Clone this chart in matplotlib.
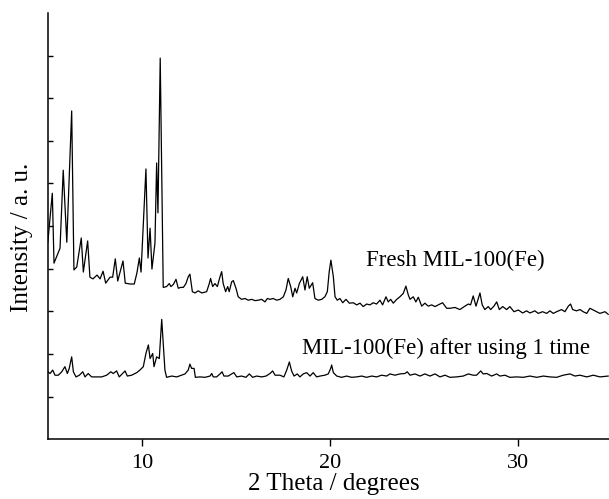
import matplotlib
matplotlib.use("Agg")
import matplotlib.pyplot as plt

# XRD patterns (2 theta in degrees, intensity a.u.)
fresh_x = [5.00, 5.24, 5.33, 5.65, 5.82, 6.01, 6.27, 6.39, 6.54, 6.78, 6.89, 7.12, 7.24, 7.40,
           7.62, 7.78, 7.94, 8.08, 8.31, 8.45, 8.59, 8.72, 9.00, 9.12, 9.37, 9.60, 9.74, 9.87,
           9.96, 10.22, 10.33, 10.44, 10.54, 10.70, 10.79, 10.86, 10.98,
           11.14, 11.32, 11.46, 11.55, 11.68, 11.82, 11.94, 12.07, 12.21, 12.35, 12.47, 12.56,
           12.69, 12.83, 13.00, 13.19, 13.45, 13.59, 13.66, 13.77, 13.89, 14.02, 14.16, 14.25,
           14.33, 14.46, 14.57, 14.65, 14.78, 14.87, 15.01, 15.13, 15.31, 15.49, 15.66, 15.85,
           16.02, 16.20, 16.38, 16.55, 16.68, 16.82, 16.99, 17.18, 17.35, 17.53, 17.67, 17.79,
           17.92, 18.03, 18.15, 18.24, 18.38, 18.56, 18.68, 18.80, 18.91, 19.09, 19.21, 19.39,
           19.57, 19.74, 19.87, 19.97, 20.06, 20.19, 20.28, 20.40, 20.54, 20.69, 20.86, 21.04,
           21.25, 21.43, 21.61, 21.78, 21.96, 22.14, 22.31, 22.49, 22.67, 22.81, 22.99, 23.11,
           23.24, 23.38, 23.56, 23.73, 23.91, 24.05, 24.18, 24.27, 24.44, 24.58, 24.71, 24.89,
           25.06, 25.24, 25.42, 25.60, 25.77, 26.00, 26.22, 26.39, 26.66, 26.92, 27.19, 27.37,
           27.49, 27.63, 27.78, 27.90, 27.99, 28.11, 28.25, 28.43, 28.56, 28.73, 28.88, 29.02,
           29.20, 29.41, 29.58, 29.80, 30.03, 30.26, 30.47, 30.65, 30.91, 31.09, 31.32, 31.54,
           31.71, 31.89, 32.07, 32.33, 32.51, 32.69, 32.81, 32.92, 33.13, 33.31, 33.48, 33.67,
           33.84, 34.02, 34.20, 34.37, 34.64, 34.81]
fresh_y = [4.62, 5.77, 4.13, 4.48, 6.31, 4.62, 7.70, 3.97, 4.04, 4.72, 3.92, 4.65, 3.80, 3.76,
           3.85, 3.76, 3.94, 3.66, 3.80, 3.80, 4.23, 3.71, 4.18, 3.66, 3.64, 3.64, 3.90, 4.25,
           3.92, 6.34, 4.25, 4.95, 3.99, 4.60, 6.48, 5.31, 8.94,
           3.56, 3.58, 3.65, 3.58, 3.63, 3.75, 3.54, 3.56, 3.56, 3.65, 3.81, 3.87,
           3.46, 3.43, 3.48, 3.43, 3.46, 3.65, 3.77, 3.58, 3.65, 3.58, 3.81, 3.93,
           3.65, 3.46, 3.58, 3.46, 3.69, 3.72, 3.54, 3.34, 3.28, 3.30, 3.26, 3.28,
           3.25, 3.26, 3.28, 3.22, 3.30, 3.28, 3.30, 3.26, 3.28, 3.34, 3.50, 3.77,
           3.58, 3.34, 3.54, 3.43, 3.65, 3.81, 3.50, 3.81, 3.54, 3.67, 3.30, 3.26,
           3.28, 3.34, 3.46, 3.93, 4.20, 3.81, 3.34, 3.26, 3.30, 3.20, 3.28, 3.19,
           3.20, 3.15, 3.19, 3.11, 3.17, 3.15, 3.20, 3.17, 3.26, 3.15, 3.34, 3.22,
           3.28, 3.19, 3.28, 3.34, 3.42, 3.59, 3.38, 3.28, 3.34, 3.22, 3.33, 3.12,
           3.19, 3.12, 3.15, 3.11, 3.15, 3.20, 3.07, 3.07, 3.09, 3.04, 3.12, 3.17,
           3.15, 3.36, 3.12, 3.30, 3.43, 3.15, 3.04, 3.11, 3.04, 3.12, 3.22, 3.04,
           3.11, 3.04, 3.11, 2.99, 3.03, 2.96, 3.01, 2.96, 3.01, 2.95, 2.99, 2.95,
           3.01, 2.95, 2.99, 3.04, 2.99, 3.12, 3.17, 3.04, 3.01, 3.04, 2.99, 2.95,
           3.07, 3.03, 2.99, 2.95, 2.99, 2.93]

used_x = [5.00, 5.12, 5.26, 5.38, 5.56, 5.74, 5.91, 6.04, 6.14, 6.27, 6.36, 6.50, 6.68, 6.86,
          6.98, 7.15, 7.33, 7.60, 7.87, 8.13, 8.35, 8.48, 8.66, 8.80, 8.98, 9.11, 9.23, 9.46,
          9.73, 9.90, 10.08, 10.22, 10.35, 10.44, 10.58, 10.65, 10.79, 10.93, 11.06, 11.14,
          11.23, 11.32, 11.59, 11.86, 12.12, 12.30, 12.47, 12.56, 12.65, 12.78, 12.85, 13.10,
          13.36, 13.63, 13.72, 13.80, 13.98, 14.16, 14.27, 14.37, 14.60, 14.78, 14.90, 15.05,
          15.31, 15.54, 15.72, 15.90, 16.11, 16.38, 16.61, 16.82, 16.96, 17.09, 17.35, 17.56,
          17.71, 17.85, 17.97, 18.10, 18.27, 18.41, 18.59, 18.77, 18.95, 19.12, 19.30, 19.48,
          19.74, 19.92, 20.05, 20.10, 20.19, 20.37, 20.63, 20.90, 21.16, 21.43, 21.70, 21.96,
          22.23, 22.49, 22.76, 23.03, 23.20, 23.47, 23.73, 24.00, 24.12, 24.27, 24.53, 24.80,
          25.06, 25.33, 25.60, 25.86, 26.13, 26.39, 26.75, 27.10, 27.37, 27.63, 27.81, 28.03,
          28.16, 28.35, 28.61, 28.88, 29.05, 29.32, 29.58, 29.94, 30.29, 30.65, 31.01, 31.36,
          31.71, 32.07, 32.42, 32.78, 33.04, 33.31, 33.67, 34.02, 34.37, 34.81]
used_y = [1.58, 1.54, 1.62, 1.50, 1.50, 1.58, 1.70, 1.54, 1.66, 1.93, 1.58, 1.46, 1.50, 1.58,
          1.46, 1.54, 1.46, 1.46, 1.46, 1.50, 1.58, 1.54, 1.60, 1.46, 1.54, 1.60, 1.48, 1.50,
          1.56, 1.62, 1.70, 2.01, 2.21, 1.89, 2.01, 1.70, 1.93, 1.89, 2.81, 2.25,
          1.62, 1.45, 1.48, 1.46, 1.50, 1.53, 1.62, 1.76, 1.66, 1.66, 1.45, 1.46,
          1.45, 1.48, 1.54, 1.46, 1.46, 1.53, 1.58, 1.48, 1.48, 1.53, 1.56, 1.46,
          1.48, 1.45, 1.53, 1.45, 1.48, 1.46, 1.48, 1.54, 1.60, 1.50, 1.50, 1.46,
          1.62, 1.81, 1.60, 1.48, 1.53, 1.46, 1.53, 1.56, 1.48, 1.56, 1.46, 1.48,
          1.50, 1.53, 1.66, 1.74, 1.56, 1.48, 1.45, 1.48, 1.45, 1.46, 1.48, 1.45,
          1.48, 1.46, 1.50, 1.48, 1.53, 1.50, 1.53, 1.54, 1.58, 1.50, 1.53, 1.48,
          1.53, 1.48, 1.53, 1.46, 1.50, 1.45, 1.46, 1.48, 1.53, 1.50, 1.50, 1.60,
          1.53, 1.54, 1.48, 1.53, 1.48, 1.50, 1.45, 1.46, 1.45, 1.48, 1.45, 1.48,
          1.46, 1.45, 1.50, 1.53, 1.48, 1.50, 1.46, 1.50, 1.46, 1.48]

label_fresh = "Fresh MIL-100(Fe)"
label_used = "MIL-100(Fe) after using 1 time"

plt.rcParams['font.family'] = ['Liberation Serif', 'DejaVu Serif']

fig = plt.figure(figsize=(6.09, 4.99), dpi=100)
ax = fig.add_axes([0.0785, 0.12, 0.926, 0.854])

ax.plot(fresh_x, fresh_y, color='black', lw=0.9)
ax.plot(used_x, used_y, color='black', lw=0.9)

ax.text(21.93, 4.20, label_fresh, fontsize=16.5, va='center', ha='left')
ax.text(18.52, 2.14, label_used, fontsize=16.5, va='center', ha='left')

ax.set_xlim(5, 35)
ax.set_ylim(0, 10)
ax.set_xticks([10, 20, 30])
ax.set_yticks(range(1, 10))
ax.set_yticklabels([])
ax.tick_params(axis='x', direction='out', length=5, width=1.0, labelsize=16, pad=6)
ax.tick_params(axis='y', direction='in', length=3.6, width=1.0)

for side in ['top', 'right']:
    ax.spines[side].set_visible(False)
for side in ['left', 'bottom']:
    ax.spines[side].set_linewidth(1.1)

fig.text(334 / 609, 1 - 473 / 499, "2 Theta / degrees", fontsize=18, ha='center', va='top')
fig.text(22 / 609, 1 - 237 / 499, "Intensity / a. u.", fontsize=18, rotation=90,
         ha='center', va='center')

fig.savefig("out.png", dpi=100)
